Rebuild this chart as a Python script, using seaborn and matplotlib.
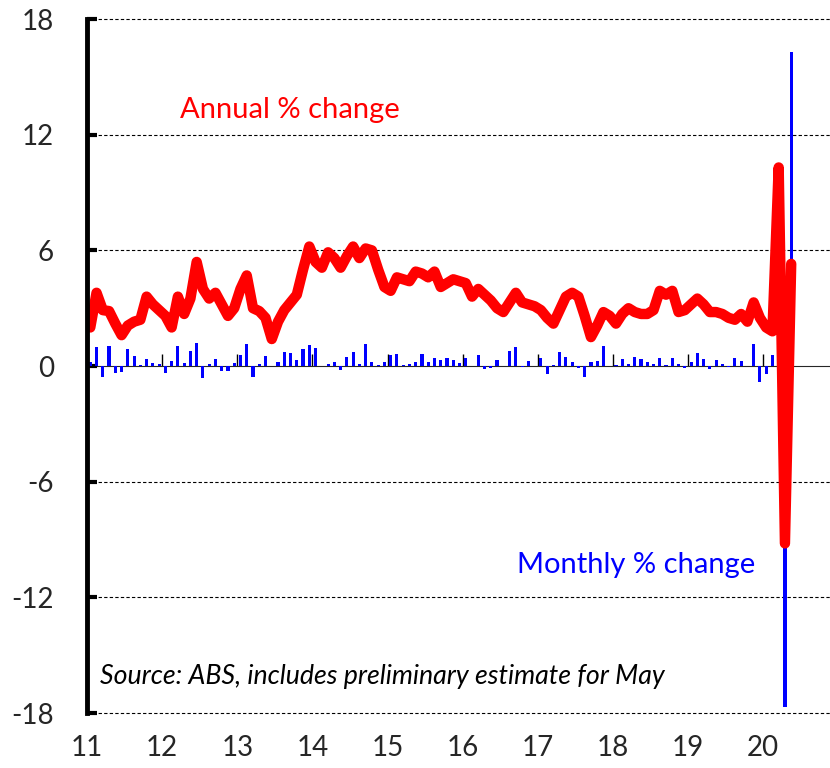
import numpy as np
import pandas as pd
import matplotlib
matplotlib.use("Agg")
import matplotlib.pyplot as plt
import seaborn as sns

# Retail turnover, Jan 2011 - May 2020
meses = pd.date_range("2011-01-01", periods=113, freq="MS")

anual = [2.0, 3.8, 2.9, 2.85, 2.2, 1.6, 2.1, 2.3, 2.4, 3.6, 3.2, 2.9,
         2.6, 2.0, 3.6, 2.7, 3.5, 5.4, 4.0, 3.5, 3.8, 3.2, 2.6, 3.0,
         4.0, 4.7, 3.0, 2.85, 2.5, 1.4, 2.3, 2.9, 3.3, 3.7, 5.0, 6.2,
         5.4, 5.1, 5.9, 5.6, 5.1, 5.7, 6.2, 5.6, 6.1, 6.0, 5.0, 4.1,
         3.9, 4.6, 4.5, 4.4, 4.9, 4.8, 4.6, 4.9, 4.1, 4.3, 4.5, 4.4,
         4.3, 3.6, 4.0, 3.7, 3.4, 3.0, 2.8, 3.3, 3.8, 3.3, 3.2, 3.1,
         2.9, 2.5, 2.2, 2.9, 3.6, 3.8, 3.6, 2.6, 1.5, 2.1, 2.8, 2.6,
         2.2, 2.7, 3.0, 2.8, 2.7, 2.7, 2.9, 3.9, 3.7, 3.9, 2.8, 2.9,
         3.2, 3.5, 3.2, 2.8, 2.8, 2.7, 2.5, 2.4, 2.7, 2.3, 3.3, 2.5,
         2.0, 1.8, 10.3, -9.2, 5.3]

mensual = [0.2, 0.97, -0.55, 1.05, -0.38, -0.33, 0.88, 0.54, 0.03, 0.36, 0.17, 0.1,
           -0.35, 0.26, 1.04, 0.14, 0.8, 1.17, -0.64, 0.1, 0.36, -0.28, -0.24, 0.17,
           0.57, 1.12, -0.55, 0.09, 0.52, 0.02, 0.19, 0.73, 0.66, 0.31, 0.86, 1.09,
           0.92, 0.02, 0.09, 0.19, -0.2, 0.48, 0.71, 0.1, 1.14, 0.22, 0.03, 0.22,
           0.55, 0.62, 0.05, 0.1, 0.22, 0.62, 0.22, 0.4, 0.31, 0.4, 0.31, 0.14,
           0.4, 0.02, 0.55, -0.17, -0.12, 0.31, 0.02, 0.76, 0.97, -0.03, 0.26, 0.02,
           0.43, -0.41, 0.05, 0.74, 0.46, 0.22, -0.12, -0.55, 0.19, 0.28, 1.05, 0.02,
           0.05, 0.36, 0.1, 0.48, 0.36, 0.19, 0.1, 0.4, 0.05, 0.4, 0.1, -0.12,
           0.19, 0.66, 0.35, -0.17, 0.29, 0.1, -0.03, 0.41, 0.24, 0.02, 1.14, -0.81,
           -0.41, 0.57, 8.5, -17.7, 16.3]

etiquetas_anio = ["11", "12", "13", "14", "15", "16", "17", "18", "19", "20"]
ticks_y = [-18, -12, -6, 0, 6, 12, 18]

df = pd.DataFrame({"fecha": meses, "anual": anual, "mensual": mensual})
# posicion de cada mes en el eje (centro de la categoria)
df["pos"] = np.arange(len(df)) + 0.5

sns.set_style("white")
plt.rcParams["font.family"] = ["Lato", "DejaVu Sans"]

fig = plt.figure(figsize=(8.3, 7.68), dpi=100)
ax = fig.add_axes([0.105, 0.0716, 0.895, 0.9036])

# Barras de variacion mensual
sns.barplot(data=df, x="pos", y="mensual", native_scale=True, width=0.5,
            color="#0000FF", saturation=1, edgecolor="none", ax=ax, zorder=2)

# Linea de variacion anual
sns.lineplot(data=df, x="pos", y="anual", color="#FF0000", linewidth=7.5,
             solid_joinstyle="round", solid_capstyle="round", ax=ax, zorder=4)

ax.set_xlim(0, 118.7)
ax.set_ylim(-18, 18)
ax.set_xlabel("")
ax.set_ylabel("")

ax.set_yticks(ticks_y)
ax.set_yticklabels([str(t) for t in ticks_y], fontsize=20)
ax.set_xticks(np.arange(0, 120, 12))
ax.set_xticklabels(etiquetas_anio, fontsize=20)
ax.tick_params(axis="x", bottom=False, length=0, pad=16)
ax.tick_params(axis="y", left=True, direction="in", length=7, width=3, pad=24, color="black")

# lineas de guia discontinuas
for t in ticks_y:
    if t != 0:
        ax.axhline(t, color="black", lw=0.8, ls=(0, (3, 2)), zorder=1, clip_on=False)

for lado in ["top", "right", "bottom"]:
    ax.spines[lado].set_visible(False)
ax.spines["left"].set_linewidth(3.5)
ax.spines["left"].set_color("black")
ax.spines["left"].set_zorder(6)

# eje en cero con marcas de año
eje0 = ax.secondary_xaxis(0.5)
eje0.set_xticks(np.arange(0, 120, 12))
eje0.xaxis.set_ticklabels([])
eje0.tick_params(bottom=True, top=False, direction="in", length=9, width=1, color="black")
eje0.spines["bottom"].set_linewidth(1.5)
eje0.spines["bottom"].set_color("black")

ax.text(14.9, 13.3, "Annual % change", color="#FF0000", fontsize=21, va="center", ha="left")
ax.text(68.7, -10.3, "Monthly % change", color="#0000FF", fontsize=21, va="center", ha="left")
ax.text(2.1, -16.1, "Source: ABS, includes preliminary estimate for May", color="black",
        fontsize=19.3, style="italic", va="center", ha="left")

plt.savefig("out.png", dpi=100)
